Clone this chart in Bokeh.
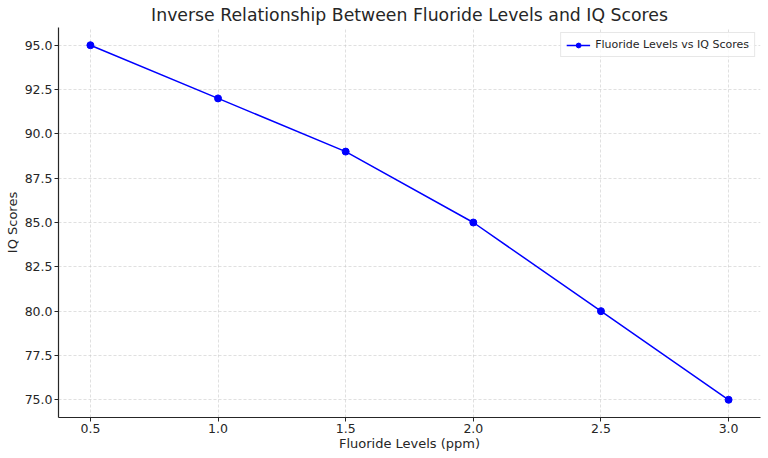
from bokeh.plotting import figure
from bokeh.models import FixedTicker, NumeralTickFormatter, Range1d
from bokeh.embed import file_html
from bokeh.resources import INLINE

fluoride = [0.5, 1.0, 1.5, 2.0, 2.5, 3.0]
iq = [95, 92, 89, 85, 80, 75]
x_ticks = [0.5, 1.0, 1.5, 2.0, 2.5, 3.0]
y_ticks = [75.0, 77.5, 80.0, 82.5, 85.0, 87.5, 90.0, 92.5, 95.0]

FONT = "DejaVu Sans"
TXT = "#262626"

p = figure(width=768, height=458, output_backend="svg", toolbar_location=None,
           x_range=Range1d(0.375, 3.125), y_range=Range1d(74, 96),
           min_border_left=58, min_border_right=8, min_border_top=27, min_border_bottom=41,
           title="Inverse Relationship Between Fluoride Levels and IQ Scores")

p.title.align = "center"
p.title.text_font = FONT
p.title.text_font_size = "17.3px"
p.title.text_font_style = "normal"
p.title.text_color = TXT
p.title.standoff = 5

p.outline_line_color = None
p.background_fill_color = "white"
p.border_fill_color = "white"

for ax in (p.xaxis, p.yaxis):
    ax.axis_line_color = TXT
    ax.axis_line_width = 1.2
    ax.major_tick_line_color = TXT
    ax.major_tick_out = 4
    ax.major_tick_in = 0
    ax.minor_tick_line_color = None
    ax.major_label_text_font = FONT
    ax.major_label_text_font_size = "12.5px"
    ax.major_label_text_color = TXT
    ax.axis_label_text_font = FONT
    ax.axis_label_text_font_size = "13px"
    ax.axis_label_text_font_style = "normal"
    ax.axis_label_text_color = TXT
    ax.formatter = NumeralTickFormatter(format="0.0")

p.xaxis.ticker = FixedTicker(ticks=x_ticks)
p.yaxis.ticker = FixedTicker(ticks=y_ticks)
p.xaxis.axis_label = "Fluoride Levels (ppm)"
p.yaxis.axis_label = "IQ Scores"
p.xaxis.axis_label_standoff = 0
p.yaxis.axis_label_standoff = 2
p.xaxis.major_label_standoff = 2
p.yaxis.major_label_standoff = 2

for g in (p.xgrid, p.ygrid):
    g.grid_line_color = "#c8c8c8"
    g.grid_line_alpha = 0.8
    g.grid_line_dash = "3 2"
    g.grid_line_width = 0.7

p.line(fluoride, iq, line_color="#0000ff", line_width=1.5,
       legend_label="Fluoride Levels vs IQ Scores")
p.scatter(fluoride, iq, marker="circle", size=7, fill_color="#0000ff",
          line_color="#0000ff", legend_label="Fluoride Levels vs IQ Scores")

p.legend.location = "top_right"
p.legend.label_text_font = FONT
p.legend.label_text_font_size = "11px"
p.legend.label_text_color = TXT
p.legend.border_line_color = "#d0d0d0"
p.legend.border_line_width = 1
p.legend.background_fill_alpha = 0.8
p.legend.margin = 5
p.legend.padding = 5
p.legend.spacing = 0
p.legend.glyph_width = 24
p.legend.glyph_height = 12
p.legend.label_height = 12
p.legend.label_standoff = 5

open("out.html", "w").write(file_html(p, INLINE))
